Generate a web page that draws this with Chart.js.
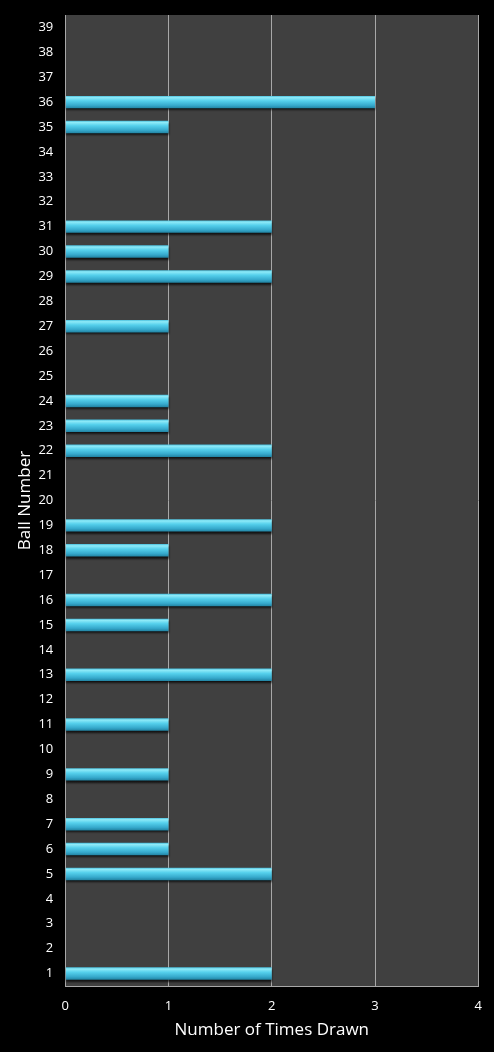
<!DOCTYPE html>
<html>
<head>
<meta charset="utf-8">
<script src="https://cdn.jsdelivr.net/npm/chart.js@4"></script>
<style>
  html, body { margin: 0; padding: 0; background: #000; }
  #wrap { width: 494px; height: 1052px; }
</style>
</head>
<body>
<div id="wrap"><canvas id="chart" width="494" height="1052"></canvas></div>
<script>
// ball numbers, bottom to top
const balls = [];
for (let n = 1; n <= 39; n++) balls.push(String(n));

const timesDrawn = [
  2, 0, 0, 0, 2, 1, 1, 0, 1, 0,   // 1-10
  1, 0, 2, 0, 1, 2, 0, 1, 2, 0,   // 11-20
  0, 2, 1, 1, 0, 0, 1, 0, 2, 1,   // 21-30
  2, 0, 0, 0, 1, 3, 0, 0, 0       // 31-39
];

const xTicks = [0, 1, 2, 3, 4];

// dark plot background + bar drop shadow
const plotBg = {
  id: 'plotBg',
  beforeDraw(chart) {
    const { ctx, chartArea: a } = chart;
    ctx.save();
    ctx.fillStyle = '#404040';
    ctx.fillRect(a.left, a.top, a.right - a.left, a.bottom - a.top);
    ctx.restore();
  },
  beforeDatasetsDraw(chart) {
    const ctx = chart.ctx;
    ctx.save();
    ctx.shadowColor = 'rgba(0,0,0,0.7)';
    ctx.shadowOffsetY = 2;
    ctx.shadowBlur = 2;
  },
  afterDatasetsDraw(chart) {
    chart.ctx.restore();
  }
};

function barFill(context) {
  const chart = context.chart;
  const y = chart.scales && chart.scales.y;
  if (!y || context.dataIndex === undefined) return '#45c6e6';
  const cy = y.getPixelForValue(context.dataIndex);
  if (!isFinite(cy)) return '#45c6e6';
  const h = 6.5;
  const g = chart.ctx.createLinearGradient(0, cy - h, 0, cy + h);
  g.addColorStop(0, '#3fb8d8');
  g.addColorStop(0.15, '#8eeaf8');
  g.addColorStop(0.4, '#55d0ec');
  g.addColorStop(0.75, '#36a9cc');
  g.addColorStop(1, '#1f7f9e');
  return g;
}

new Chart(document.getElementById('chart'), {
  type: 'bar',
  data: {
    labels: balls,
    datasets: [{
      data: timesDrawn,
      backgroundColor: barFill,
      borderWidth: 0,
      barPercentage: 0.5,
      categoryPercentage: 1.0
    }]
  },
  options: {
    indexAxis: 'y',
    responsive: false,
    animation: false,
    devicePixelRatio: 1,
    layout: { padding: { top: 15, right: 13, left: 15, bottom: 12 } },
    plugins: {
      legend: { display: false },
      tooltip: { enabled: false }
    },
    scales: {
      x: {
        min: 0,
        max: 4,
        afterBuildTicks(axis) { axis.ticks = xTicks.map(v => ({ value: v })); },
        grid: { color: '#a8a8a8', lineWidth: 1, drawTicks: false },
        border: { color: '#a8a8a8' },
        ticks: { color: '#ffffff', font: { family: 'Open Sans', size: 13 }, padding: 12 },
        title: {
          display: true,
          text: 'Number of Times Drawn',
          color: '#ffffff',
          font: { family: 'Open Sans', size: 17 },
          padding: { top: -6, bottom: 0 }
        }
      },
      y: {
        reverse: true,
        afterFit(axis) { axis.paddingTop = 0; axis.paddingBottom = 0; },
        grid: { display: false, drawTicks: false },
        border: { color: '#a8a8a8' },
        ticks: { color: '#ffffff', font: { family: 'Open Sans', size: 13 }, padding: 12, autoSkip: false },
        title: {
          display: true,
          text: 'Ball Number',
          color: '#ffffff',
          font: { family: 'Open Sans', size: 17 },
          padding: { top: 0, bottom: -9 }
        }
      }
    }
  },
  plugins: [plotBg]
});
</script>
</body>
</html>
